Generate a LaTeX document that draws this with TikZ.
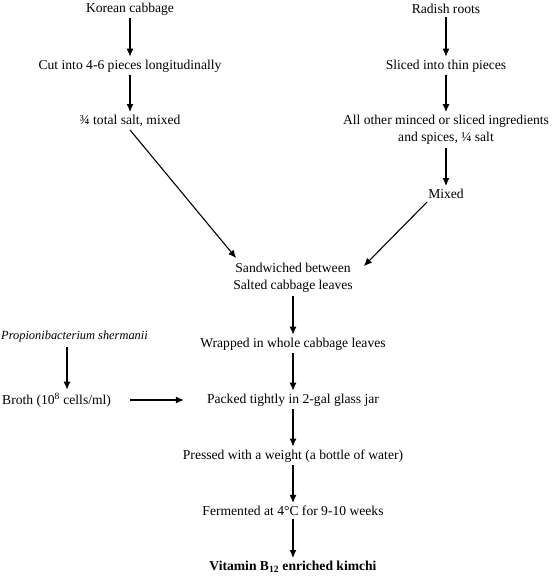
\documentclass[tikz,border=0pt]{standalone}
\usepackage{fontspec}
\setmainfont{Liberation Serif}
\usetikzlibrary{arrows.meta,calc}
\begin{document}
\begin{tikzpicture}[x=1pt,y=-1pt,
  every node/.style={font=\fontsize{13.6}{17}\selectfont, inner sep=3pt, align=center},
  arr/.style={-{Latex[length=8pt,width=7pt]}, line width=1.1pt}]
\useasboundingbox (0,0) rectangle (552,578);
% left column
\node (kc) at (130,9) {Korean cabbage};
\node (cut) at (130,66) {Cut into 4-6 pieces longitudinally};
\node (salt) at (130,121) {¾ total salt, mixed};
% right column
\node (rr) at (446,9) {Radish roots};
\node (sl) at (446,66) {Sliced into thin pieces};
\node (oth) at (446,130) {All other minced or sliced ingredients\\and spices, ¼ salt};
\node (mix) at (446,194) {Mixed};
% center column
\node (sand) at (293,278) {Sandwiched between\\Salted cabbage leaves};
\node (wrap) at (293,344) {Wrapped in whole cabbage leaves};
\node (pack) at (293,400) {Packed tightly in 2-gal glass jar};
\node (press) at (293,456) {Pressed with a weight (a bottle of water)};
\node (ferm) at (293,511) {Fermented at 4°C for 9-10 weeks};
\node (vit) at (293,567) {\bfseries Vitamin B\textsubscript{12} enriched kimchi};
% left lower
\node[anchor=west, inner sep=1pt, font=\fontsize{12.4}{15}\selectfont\itshape] (prop) at (0,337) {Propionibacterium shermanii};
\node[anchor=west, inner sep=1pt] (broth) at (1,400) {Broth (10\textsuperscript{8} cells/ml)};
\coordinate (px) at (67,0);
% connectors
\draw[arr] (kc) -- (cut);
\draw[arr] (cut) -- (salt);
\draw[arr] (rr) -- (sl);
\draw[arr] (sl) -- (oth);
\draw[arr] (oth) -- (mix);
\draw[arr] (salt.south) -- ($(sand.north west)+(6,-2)$);
\draw[arr] ($(mix.south west)+(2,0)$) -- ($(sand.north east)+(8,6)$);
\draw[arr] (sand) -- (wrap);
\draw[arr] (wrap) -- (pack);
\draw[arr] (pack) -- (press);
\draw[arr] (press) -- (ferm);
\draw[arr] (ferm) -- (vit);
\draw[arr, shorten <=3pt, shorten >=2pt] (prop.south -| px) -- (broth.north -| px);
\draw[arr, shorten <=18pt, shorten >=20pt] (broth.east) -- (pack.west);
\end{tikzpicture}
\end{document}
